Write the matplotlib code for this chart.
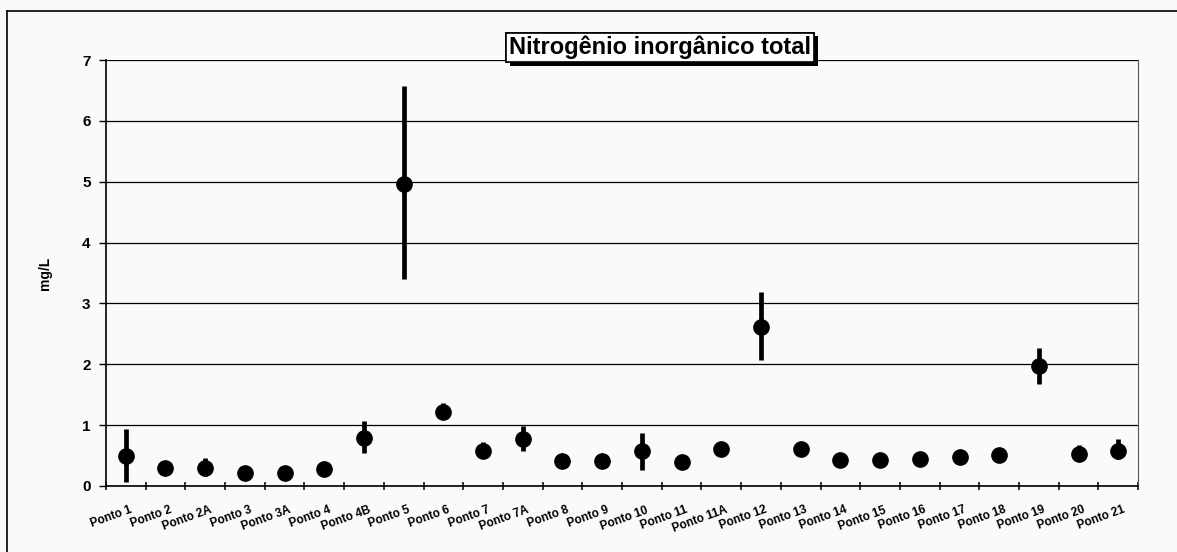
import numpy as np
import matplotlib
matplotlib.use('Agg')
import matplotlib.pyplot as plt
import matplotlib.patheffects as pe
from matplotlib.lines import Line2D

plt.rcParams['font.family'] = ['Liberation Sans', 'DejaVu Sans']
plt.rcParams['font.weight'] = 'bold'


### Data
pontos = ['Ponto 1', 'Ponto 2', 'Ponto 2A', 'Ponto 3', 'Ponto 3A', 'Ponto 4',
          'Ponto 4B', 'Ponto 5', 'Ponto 6', 'Ponto 7', 'Ponto 7A', 'Ponto 8',
          'Ponto 9', 'Ponto 10', 'Ponto 11', 'Ponto 11A', 'Ponto 12', 'Ponto 13',
          'Ponto 14', 'Ponto 15', 'Ponto 16', 'Ponto 17', 'Ponto 18', 'Ponto 19',
          'Ponto 20', 'Ponto 21']
media = [0.49, 0.29, 0.29, 0.22, 0.22, 0.28, 0.79, 4.96, 1.21, 0.57, 0.78, 0.41,
         0.41, 0.57, 0.39, 0.60, 2.62, 0.61, 0.42, 0.42, 0.44, 0.48, 0.51, 1.97,
         0.52, 0.58]
minimo = [0.07, 0.29, 0.16, 0.22, 0.22, 0.28, 0.54, 3.40, 1.12, 0.50, 0.57, 0.41,
          0.41, 0.26, 0.39, 0.60, 2.07, 0.51, 0.42, 0.42, 0.44, 0.48, 0.51, 1.68,
          0.43, 0.45]
maximo = [0.93, 0.29, 0.46, 0.22, 0.22, 0.28, 1.06, 6.58, 1.36, 0.72, 0.99, 0.41,
          0.41, 0.87, 0.39, 0.60, 3.19, 0.71, 0.42, 0.42, 0.44, 0.48, 0.51, 2.27,
          0.67, 0.77]

titulo = 'Nitrogênio inorgânico total'
y_ticks = [0, 1, 2, 3, 4, 5, 6, 7]


### Plot
bg = '#f9fafc'
fig = plt.figure(figsize=(11.77, 5.52), dpi=100, facecolor=bg)
ax = fig.add_axes([0.090, 0.1196, 0.877, 0.7717], facecolor=bg)

x = np.arange(len(pontos))
media = np.array(media)
yerr = [media - np.array(minimo), np.array(maximo) - media]

ax.errorbar(x, media, yerr=yerr, fmt='o', color='black', ms=11,
            elinewidth=3.4, capsize=0, zorder=3)

ax.set_xlim(-0.5, len(pontos) - 0.5)
ax.set_ylim(0, 7)
ax.set_yticks(y_ticks)
ax.set_yticklabels([str(t) for t in y_ticks], fontsize=11, fontweight='bold')
ax.yaxis.grid(True, color='black', linewidth=0.9)
ax.set_axisbelow(True)

ax.set_xticks(np.append(x - 0.5, len(pontos) - 0.5))
ax.set_xticklabels([])
ax.set_xticks(x + 0.1, minor=True)
ax.set_xticklabels(pontos, minor=True, rotation=20, ha='right',
                   rotation_mode='anchor', fontsize=8.5, fontweight='bold')
ax.tick_params(axis='x', which='minor', length=0, pad=13)
ax.tick_params(axis='x', which='major', length=6, width=1.1, direction='inout')
ax.tick_params(axis='y', length=5, width=1, direction='out', pad=6)

ax.set_ylabel('mg/L', fontsize=10, fontweight='bold', labelpad=22)

for side in ['left', 'bottom']:
    ax.spines[side].set_color('black')
    ax.spines[side].set_linewidth(1.2)
ax.spines['right'].set_color('#555555')
ax.spines['right'].set_linewidth(0.8)
ax.spines['top'].set_visible(False)

# title box with shadow
t = fig.text(0.561, 0.914, titulo, ha='center', va='center', fontsize=17,
             fontweight='bold',
             bbox=dict(boxstyle='square,pad=0.12', fc='white', ec='black', lw=1.2))
t.get_bbox_patch().set_path_effects([
    pe.withSimplePatchShadow(offset=(2.5, -2.5), shadow_rgbFace='black', alpha=1),
    pe.Normal()])

# outer frame (cut off at bottom and right)
fig.add_artist(Line2D([7 / 1177, 1.0], [1 - 11 / 552, 1 - 11 / 552],
                      color='black', lw=1.2, transform=fig.transFigure))
fig.add_artist(Line2D([7 / 1177, 7 / 1177], [0.0, 1 - 11 / 552],
                      color='black', lw=1.2, transform=fig.transFigure))

plt.savefig('out.png', dpi=100, facecolor=bg)
plt.close(fig)
